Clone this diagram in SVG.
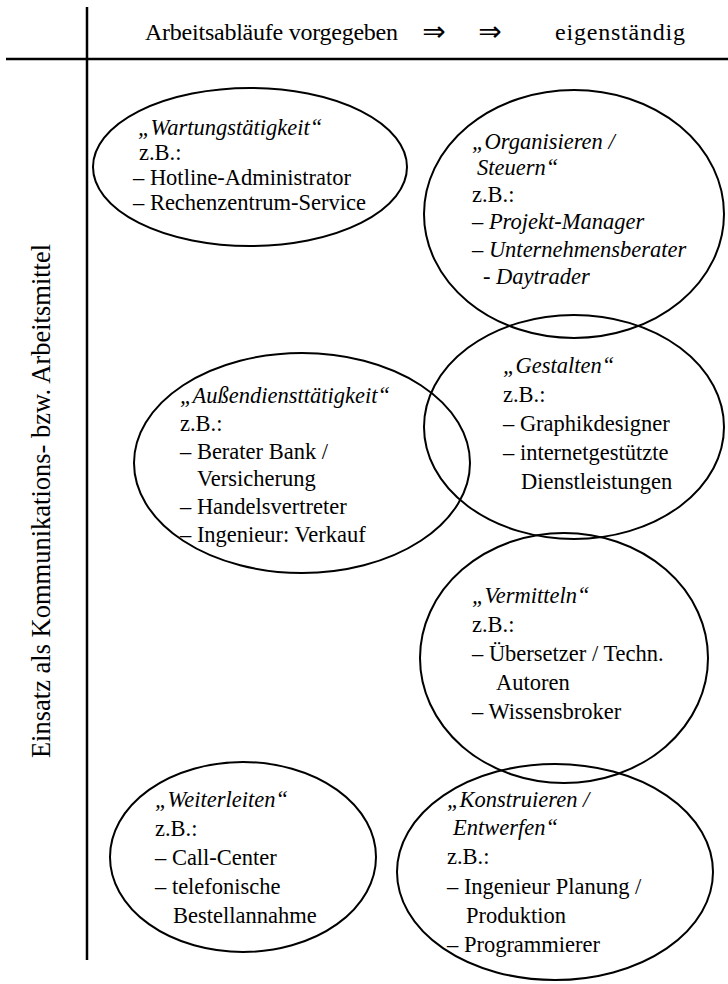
<svg xmlns="http://www.w3.org/2000/svg" width="728" height="984" viewBox="0 0 728 984">
<style>
text{font-family:"Liberation Serif","Times New Roman",serif;font-size:22.5px;fill:#000}
.i{font-style:italic}
.hd{font-size:24px}
.ar{font-family:"DejaVu Sans",sans-serif;font-size:28px}
.vt{font-size:26.5px}
ellipse{fill:none;stroke:#000;stroke-width:2}
.ax{stroke:#000;stroke-width:2.5;fill:none}
</style>
<rect width="728" height="984" fill="#fff"/>
<g id="axes">
<line class="ax" x1="87" y1="7" x2="87" y2="960"/>
<line class="ax" x1="6" y1="59" x2="728" y2="59"/>
<text class="hd" x="145" y="40" textLength="253">Arbeitsabläufe vorgegeben</text>
<text class="ar" x="434" y="41" text-anchor="middle">⇒</text>
<text class="ar" x="490" y="41" text-anchor="middle">⇒</text>
<text class="hd" x="555" y="40" textLength="130">eigenständig</text>
<text class="vt" transform="translate(50,501) rotate(-90)" text-anchor="middle">Einsatz als Kommunikations- bzw. Arbeitsmittel</text>
</g>
<g id="wartung">
<ellipse cx="250" cy="167" rx="157" ry="79"/>
<text class="i" x="138" y="135">„Wartungstätigkeit“</text>
<text x="139" y="160">z.B.:</text>
<text x="133" y="185">– Hotline-Administrator</text>
<text x="133" y="210">– Rechenzentrum-Service</text>
</g>
<g id="organisieren">
<ellipse cx="574" cy="214" rx="150" ry="124"/>
<text class="i" x="472" y="149">„Organisieren /</text>
<text class="i" x="477" y="175">Steuern“</text>
<text x="472" y="202">z.B.:</text>
<text class="i" x="472" y="229">– Projekt-Manager</text>
<text class="i" x="472" y="257">– Unternehmensberater</text>
<text class="i" x="483" y="284">- Daytrader</text>
</g>
<g id="aussendienst">
<ellipse cx="302" cy="463" rx="168" ry="110"/>
<text class="i" x="180" y="403">„Außendiensttätigkeit“</text>
<text x="180" y="431">z.B.:</text>
<text x="180" y="459">– Berater Bank /</text>
<text x="197" y="486">Versicherung</text>
<text x="180" y="514">– Handelsvertreter</text>
<text x="180" y="542">– Ingenieur: Verkauf</text>
</g>
<g id="gestalten">
<ellipse cx="574" cy="427" rx="150" ry="112"/>
<text class="i" x="503" y="373">„Gestalten“</text>
<text x="503" y="402">z.B.:</text>
<text x="503" y="431">– Graphikdesigner</text>
<text x="503" y="460">– internetgestützte</text>
<text x="521" y="489">Dienstleistungen</text>
</g>
<g id="vermitteln">
<ellipse cx="564" cy="658" rx="144" ry="125"/>
<text class="i" x="472" y="603">„Vermitteln“</text>
<text x="472" y="632">z.B.:</text>
<text x="472" y="661">– Übersetzer / Techn.</text>
<text x="496" y="690">Autoren</text>
<text x="472" y="719">– Wissensbroker</text>
</g>
<g id="weiterleiten">
<ellipse cx="243" cy="857" rx="133" ry="95"/>
<text class="i" x="155" y="807">„Weiterleiten“</text>
<text x="155" y="836">z.B.:</text>
<text x="155" y="865">– Call-Center</text>
<text x="155" y="894">– telefonische</text>
<text x="173" y="923">Bestellannahme</text>
</g>
<g id="konstruieren">
<ellipse cx="555" cy="872" rx="158" ry="108"/>
<text class="i" x="447" y="807">„Konstruieren /</text>
<text class="i" x="453" y="835">Entwerfen“</text>
<text x="447" y="864">z.B.:</text>
<text x="447" y="894">– Ingenieur Planung /</text>
<text x="466" y="923">Produktion</text>
<text x="447" y="952">– Programmierer</text>
</g>
</svg>
